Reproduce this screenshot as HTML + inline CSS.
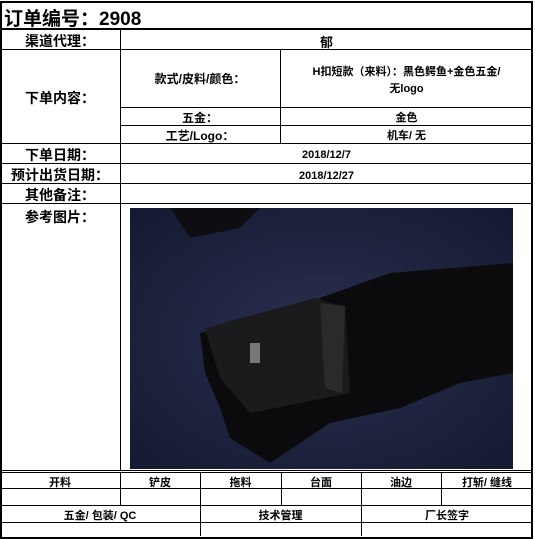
<!DOCTYPE html>
<html><head><meta charset="utf-8"><style>
body{margin:0;width:535px;height:539px;background:#fff;font-family:"Liberation Sans","Noto Sans CJK SC",sans-serif;font-weight:bold;color:#000;position:relative;overflow:hidden}
.h{position:absolute;height:1px;background:#000}
.v{position:absolute;width:1px;background:#000}
.t{position:absolute;text-align:center;white-space:nowrap}
</style></head><body>
<div style="position:absolute;left:0;top:1px;width:529px;height:534px;border:2px solid #000"></div>
<div class="h" style="left:0;top:28px;width:533px;height:2px"></div>
<div class="h" style="left:0;top:49px;width:533px"></div>
<div class="h" style="left:120px;top:107px;width:413px"></div>
<div class="h" style="left:120px;top:125px;width:413px"></div>
<div class="h" style="left:0;top:143px;width:533px"></div>
<div class="h" style="left:0;top:163px;width:533px"></div>
<div class="h" style="left:0;top:183px;width:533px"></div>
<div class="h" style="left:0;top:203px;width:533px"></div>
<div class="v" style="left:120px;top:29px;height:441px"></div>
<div class="v" style="left:280px;top:49px;height:94px"></div>
<svg style="position:absolute;left:130px;top:208px" width="383" height="261" viewBox="0 0 383 261">
<defs><radialGradient id="g" cx="0.5" cy="0.5" r="0.7"><stop offset="0" stop-color="#2a3050"/><stop offset="1" stop-color="#141a30"/></radialGradient></defs>
<rect width="383" height="261" fill="url(#g)"/>
<path d="M40 0 L130 0 L110 20 L60 30 Z" fill="#0e0e12"/>
<path d="M70 125 L190 90 L260 65 L383 55 L383 165 L330 175 L270 200 L200 215 L140 255 L100 230 L90 200 L75 165 Z" fill="#0b0b0d"/>
<path d="M75 120 L185 90 L215 100 L220 185 L120 205 L90 170 Z" fill="#1b1b1d"/>
<path d="M190 95 L215 98 L212 185 L195 180 Z" fill="#2a2a2c"/>
<rect x="120" y="135" width="10" height="20" fill="#777"/>
</svg>
<div class="h" style="left:0;top:470px;width:533px"></div>
<div class="h" style="left:0;top:472px;width:533px"></div>
<div class="h" style="left:0;top:488px;width:533px"></div>
<div class="h" style="left:0;top:505px;width:533px"></div>
<div class="h" style="left:0;top:522px;width:533px"></div>
<div class="v" style="left:120px;top:472px;height:33px"></div>
<div class="v" style="left:200px;top:472px;height:64px"></div>
<div class="v" style="left:281px;top:472px;height:33px"></div>
<div class="v" style="left:361px;top:472px;height:64px"></div>
<div class="v" style="left:441px;top:472px;height:33px"></div>
<div class="t" style="left:4px;top:4px;font-size:19px;text-align:left">订单编号：2908</div>
<div class="t" style="left:0;width:120px;top:31px;font-size:14px">渠道代理：</div>
<div class="t" style="left:120px;width:413px;top:32px;font-size:13px">郁</div>
<div class="t" style="left:0;width:120px;top:88px;font-size:14px">下单内容：</div>
<div class="t" style="left:120px;width:160px;top:70px;font-size:12px">款式/皮料/颜色：</div>
<div class="t" style="left:280px;width:253px;top:64px;font-size:11px;line-height:17px">H扣短款（来料）：黑色鳄鱼+金色五金/<br>无logo</div>
<div class="t" style="left:120px;width:160px;top:109px;font-size:12px">五金：</div>
<div class="t" style="left:280px;width:253px;top:109px;font-size:11px">金色</div>
<div class="t" style="left:120px;width:160px;top:127px;font-size:12px">工艺/Logo：</div>
<div class="t" style="left:280px;width:253px;top:127px;font-size:11px">机车/ 无</div>
<div class="t" style="left:0;width:120px;top:145px;font-size:14px">下单日期：</div>
<div class="t" style="left:120px;width:413px;top:149px;font-size:11px">2018/12/7</div>
<div class="t" style="left:0;width:120px;top:165px;font-size:14px">预计出货日期：</div>
<div class="t" style="left:120px;width:413px;top:170px;font-size:11px">2018/12/27</div>
<div class="t" style="left:0;width:120px;top:185px;font-size:14px">其他备注：</div>
<div class="t" style="left:0;width:120px;top:207px;font-size:14px">参考图片：</div>
<div class="t" style="left:0;width:120px;top:474px;font-size:11px">开料</div>
<div class="t" style="left:120px;width:80px;top:474px;font-size:11px">铲皮</div>
<div class="t" style="left:200px;width:81px;top:474px;font-size:11px">拖料</div>
<div class="t" style="left:281px;width:80px;top:474px;font-size:11px">台面</div>
<div class="t" style="left:361px;width:80px;top:474px;font-size:11px">油边</div>
<div class="t" style="left:441px;width:92px;top:474px;font-size:11px">打斩/ 缝线</div>
<div class="t" style="left:0;width:200px;top:507px;font-size:11px">五金/ 包装/ QC</div>
<div class="t" style="left:200px;width:161px;top:507px;font-size:11px">技术管理</div>
<div class="t" style="left:361px;width:172px;top:507px;font-size:11px">厂长签字</div>
</body></html>
